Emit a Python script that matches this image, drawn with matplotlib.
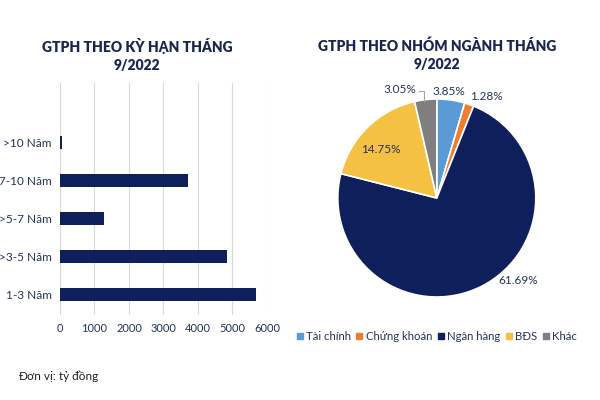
import matplotlib.pyplot as plt

plt.rcParams['font.family'] = ['Lato', 'DejaVu Sans']

# bar chart: issuance by term (ty dong)
terms = ['1-3 Năm', '>3-5 Năm', '>5-7 Năm', '>7-10 Năm', '>10 Năm']
term_values = [5680, 4830, 1280, 3720, 50]
xticks = [0, 1000, 2000, 3000, 4000, 5000, 6000]

# pie chart: issuance by sector (%)
sectors = ['Tài chính', 'Chứng khoán', 'Ngân hàng', 'BĐS', 'Khác']
sector_pct = [3.85, 1.28, 61.69, 14.75, 3.05]
sector_colors = ['#5b9bd5', '#ed7d31', '#0f1f5c', '#f4c142', '#7f7f7f']

navy = '#0f1f5c'
txt = '#26325c'

fig = plt.figure(figsize=(6, 4), dpi=100)

# --- bars
ax = fig.add_axes([0.1, 0.2125, 0.345, 0.58])
ax.barh(range(len(terms)), term_values, height=0.34, color=navy)
ax.set_yticks(range(len(terms)))
ax.set_yticklabels(terms, fontsize=8.5, color=txt)
ax.set_xticks(xticks)
ax.set_xticklabels([str(v) for v in xticks], fontsize=8, color=txt)
ax.set_xlim(0, 6000)
ax.set_ylim(-0.53, 5.55)
ax.xaxis.grid(True, color='#d9d9d9', lw=0.8)
ax.set_axisbelow(True)
for s in ax.spines.values():
    s.set_visible(False)
ax.tick_params(length=0, pad=6)
fig.text(0.2283, 0.8625, 'GTPH THEO KỲ HẠN THÁNG\n9/2022', ha='center', va='center',
         fontsize=10, fontweight='heavy', color='#1a2550', linespacing=1.45)

# --- pie
pax = fig.add_axes([0.563, 0.2575, 0.33, 0.495])
wedges, _ = pax.pie(sector_pct, colors=sector_colors, startangle=90, counterclock=False,
                    radius=1, wedgeprops=dict(edgecolor='white', linewidth=1.2))
pax.set_aspect('equal')
pax.set_xlim(-1, 1)
pax.set_ylim(-1, 1)

label_pos = [(0.12, 1.08), (0.5, 1.03), (0.82, -0.83), (-0.57, 0.49), (-0.37, 1.10)]
for p, (lx, ly) in zip(sector_pct, label_pos):
    pax.text(lx, ly, ('%.2f' % p) + '%', ha='center', va='center', fontsize=8.5,
             color=txt, clip_on=False)
# leader line for Khac
pax.plot([-0.18, -0.13, -0.13], [1.08, 1.08, 0.98], color='#a6a6a6', lw=0.8, clip_on=False)

handles = [plt.Line2D([], [], marker='s', ls='', color=c, markersize=4.5) for c in sector_colors]
fig.legend(handles, sectors, loc='center', bbox_to_anchor=(0.728, 0.16), ncol=5,
           frameon=False, fontsize=8.2, handlelength=0.5, handletextpad=0.3,
           columnspacing=0.5, labelcolor=txt)
fig.text(0.728, 0.8625, 'GTPH THEO NHÓM NGÀNH THÁNG\n9/2022', ha='center', va='center',
         fontsize=10, fontweight='heavy', color='#1a2550', linespacing=1.45)

fig.text(0.03, 0.05, 'Đơn vị: tỷ đồng', fontsize=8.5, color='#222222')

fig.savefig('out.png', dpi=100)
